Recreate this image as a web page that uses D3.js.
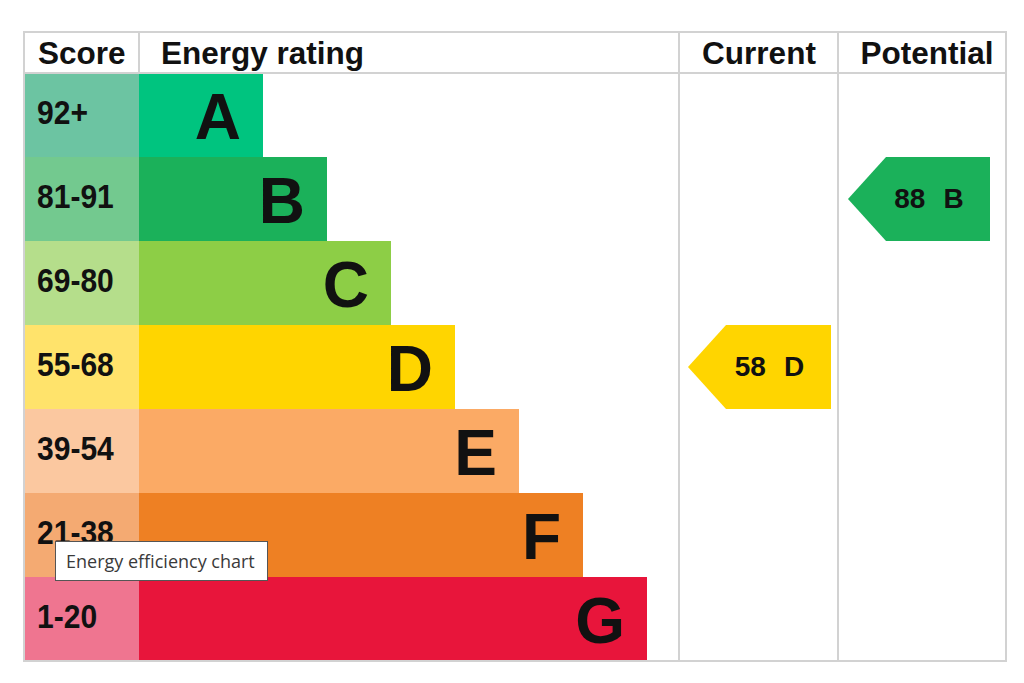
<!DOCTYPE html>
<html>
<head>
<meta charset="utf-8">
<script src="https://cdn.jsdelivr.net/npm/d3@7"></script>
<style>
  html, body { margin: 0; padding: 0; background: #fff; }
  svg { display: block; }
</style>
</head>
<body>
<div id="chart"></div>
<script>
// data
var bands = ["A", "B", "C", "D", "E", "F", "G"];
var scoreRanges = ["92+", "81-91", "69-80", "55-68", "39-54", "21-38", "1-20"];
var barSteps = [1, 2, 3, 4, 5, 6, 7];
var bandColors = ["#00c47f", "#1bb15a", "#8dce46", "#ffd500", "#fbaa65", "#ee8023", "#e8153b"];
var scoreColors = ["#6cc4a2", "#73c98f", "#b5de8b", "#ffe36b", "#fbc8a0", "#f4aa72", "#ef7590"];
var headers = ["Score", "Energy rating", "Current", "Potential"];
var currentScore = 58, currentBand = "D";
var potentialScore = 88, potentialBand = "B";

var W = 1024, H = 683;
var svg = d3.select("#chart").append("svg")
    .attr("width", W)
    .attr("height", H);

var font = "'Liberation Sans', Arial, sans-serif";

// table frame
var tLeft = 24, tRight = 1006, tTop = 32, headBottom = 73, tBottom = 661;
var colEdges = [tLeft, 139, 679, 838, tRight];

var y = d3.scaleBand()
    .domain(bands)
    .range([headBottom, tBottom])
    .padding(0);

var x = d3.scaleLinear()
    .domain([0, 7])
    .range([199, 647]);

// score cells
svg.selectAll("rect.score")
    .data(bands)
    .enter()
    .append("rect")
    .attr("class", "score")
    .attr("x", colEdges[0])
    .attr("y", function (d) { return y(d); })
    .attr("width", colEdges[1] - colEdges[0])
    .attr("height", y.bandwidth())
    .style("fill", function (d, i) { return scoreColors[i]; });

// the score labels are a narrow bold face, so squeeze them a little
svg.selectAll("text.score")
    .data(scoreRanges)
    .enter()
    .append("text")
    .attr("class", "score")
    .attr("transform", function (d, i) {
        return "translate(37," + (y(bands[i]) + y.bandwidth() / 2 + 9) + ") scale(0.91,1)";
    })
    .style("font-family", font)
    .style("font-weight", "bold")
    .style("font-size", "33px")
    .style("fill", "#111")
    .text(function (d) { return d; });

// rating bars
svg.selectAll("rect.bar")
    .data(bands)
    .enter()
    .append("rect")
    .attr("class", "bar")
    .attr("x", colEdges[1])
    .attr("y", function (d) { return y(d); })
    .attr("width", function (d, i) { return x(barSteps[i]) - colEdges[1]; })
    .attr("height", y.bandwidth())
    .style("fill", function (d, i) { return bandColors[i]; });

svg.selectAll("text.bar")
    .data(bands)
    .enter()
    .append("text")
    .attr("class", "bar")
    .attr("x", function (d, i) { return x(barSteps[i]) - 22; })
    .attr("y", function (d) { return y(d) + y.bandwidth() / 2 + 24; })
    .attr("text-anchor", "end")
    .style("font-family", font)
    .style("font-weight", "bold")
    .style("font-size", "64px")
    .style("fill", "#111")
    .text(function (d) { return d; });

// grid lines
var grid = svg.append("g")
    .style("stroke", "#d2d2d2")
    .style("stroke-width", 2)
    .style("fill", "none");

grid.append("rect")
    .attr("x", tLeft)
    .attr("y", tTop)
    .attr("width", tRight - tLeft)
    .attr("height", tBottom - tTop);

grid.append("line")
    .attr("x1", tLeft).attr("x2", tRight)
    .attr("y1", headBottom).attr("y2", headBottom);

// score / rating divider only in the header, the others run full height
grid.selectAll("line.col")
    .data(colEdges.slice(1, 4))
    .enter()
    .append("line")
    .attr("class", "col")
    .attr("x1", function (d) { return d; })
    .attr("x2", function (d) { return d; })
    .attr("y1", tTop)
    .attr("y2", function (d, i) { return i == 0 ? headBottom : tBottom; });

// header row
var headX = [38, 161, 759, 927];
var headAnchor = ["start", "start", "middle", "middle"];
svg.selectAll("text.head")
    .data(headers)
    .enter()
    .append("text")
    .attr("class", "head")
    .attr("x", function (d, i) { return headX[i]; })
    .attr("y", 64)
    .attr("text-anchor", function (d, i) { return headAnchor[i]; })
    .style("font-family", font)
    .style("font-weight", "bold")
    .style("font-size", "31.5px")
    .style("fill", "#111")
    .text(function (d) { return d; });

// arrow markers for current / potential
function arrow(score, band, x0, x1) {
    var yt = y(band), yb = yt + y.bandwidth(), ym = yt + y.bandwidth() / 2;
    var i = bands.indexOf(band);
    var g = svg.append("g");
    g.append("path")
        .attr("d", "M" + x0 + "," + ym + " L" + (x0 + 38) + "," + yt + " L" + x1 + "," + yt +
            " L" + x1 + "," + yb + " L" + (x0 + 38) + "," + yb + " Z")
        .style("fill", bandColors[i]);
    var t = g.append("text")
        .attr("x", (x0 + x1) / 2 + 10)
        .attr("y", ym + 9)
        .attr("text-anchor", "middle")
        .style("font-family", font)
        .style("font-weight", "bold")
        .style("font-size", "28px")
        .style("fill", "#111");
    t.append("tspan").text(score);
    t.append("tspan").attr("dx", 18).text(band);
}
arrow(currentScore, currentBand, 688, 831);
arrow(potentialScore, potentialBand, 848, 990);

// tooltip box
var tip = svg.append("g");
tip.append("rect")
    .attr("x", 55.5)
    .attr("y", 541.5)
    .attr("width", 212)
    .attr("height", 39)
    .style("fill", "#fff")
    .style("stroke", "#555")
    .style("stroke-width", 1);
tip.append("text")
    .attr("x", 66)
    .attr("y", 568)
    .style("font-family", "'Open Sans', 'Noto Sans', sans-serif")
    .style("font-size", "18px")
    .style("fill", "#3a3a3a")
    .text("Energy efficiency chart");
</script>
</body>
</html>
